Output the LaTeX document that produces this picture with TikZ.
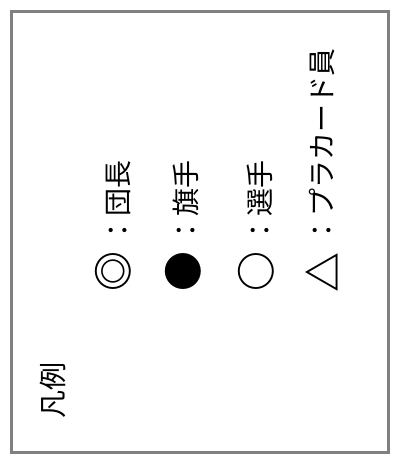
\documentclass[tikz,border=0pt]{standalone}
\usepackage{fontspec}
\newfontfamily\cjk{Noto Sans CJK JP}
\begin{document}
\begin{tikzpicture}[x=1pt,y=1pt,
  lbl/.style={font=\cjk\fontsize{28}{28}\selectfont, rotate=90, anchor=west, inner sep=0pt},
  sym/.style={font=\cjk\bfseries\fontsize{40}{40}\selectfont, rotate=90, inner sep=0pt},
  frame/.style={draw=black!50, line width=2.5pt}]
\useasboundingbox (0,0) rectangle (394,462);
\fill[white] (0,0) rectangle (394,462);
\draw[frame] (11.5,9.5) rectangle (388.5,450.5);
\node[lbl] (title) at (53,43) {凡例};
\node[sym] (s1) at (113,190) {◎};
\node[sym] (s2) at (183,190) {●};
\node[sym] (s3) at (256,190) {○};
\node[sym] (s4) at (322,189) {△};
\node[lbl] (t1) at (118,217) {：団長};
\node[lbl] (t2) at (186,217) {：旗手};
\node[lbl] (t3) at (260,217) {：選手};
\node[lbl] (t4) at (322,217) {：プラカード員};
\end{tikzpicture}
\end{document}
